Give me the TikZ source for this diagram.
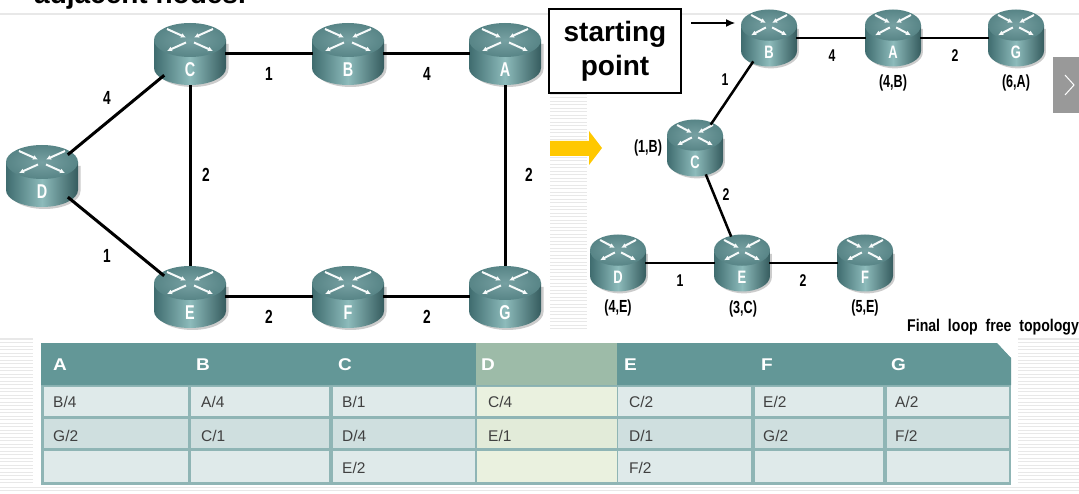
\documentclass[tikz,border=0pt]{standalone}
\usepackage{fontspec}
\usepackage{graphicx}
\setmainfont{Liberation Sans}
\usetikzlibrary{shapes.geometric,arrows.meta}
\definecolor{tealdark}{HTML}{3F6C6F}
\definecolor{tealmid}{HTML}{8DBBBB}
\definecolor{tealtop}{HTML}{5F9092}
\definecolor{tabhead}{HTML}{639797}
\definecolor{tabline}{HTML}{8FB5B5}
\definecolor{rowa}{HTML}{DFEAEA}
\definecolor{rowb}{HTML}{CFDFDF}
\definecolor{dhead}{HTML}{9DBBA8}
\definecolor{drowa}{HTML}{EAF1DF}
\definecolor{drowb}{HTML}{E2EBD9}
\definecolor{stripe}{HTML}{E8E8E8}
\definecolor{gold}{HTML}{FFC800}
\newcommand{\cond}[1]{\scalebox{.72}[1]{#1}}
\newcommand{\wide}[1]{\scalebox{1.12}[1]{#1}}
\tikzset{
  link/.style={draw=black,line width=3pt},
  linkthin/.style={draw=black,line width=2.5pt},
  hubbig/.style={ellipse,minimum width=70pt,minimum height=62pt,inner sep=0pt},
  hubsmall/.style={ellipse,minimum width=54pt,minimum height=57pt,inner sep=0pt},
  hubletter/.style={text=white,font=\bfseries\fontsize{20}{20}\selectfont},
  cost/.style={font=\bfseries\fontsize{19}{19}\selectfont,inner sep=0pt},
  costsmall/.style={font=\bfseries\fontsize{17}{17}\selectfont,inner sep=0pt},
  tag/.style={font=\bfseries\fontsize{17.5}{18}\selectfont,inner sep=0pt},
  headtxt/.style={anchor=west,text=white,font=\bfseries\fontsize{17}{17}\selectfont,inner sep=0pt},
  celltxt/.style={anchor=west,text=black!75,font=\fontsize{15.5}{15.5}\selectfont,inner sep=0pt},
  xarm/.style={white!92!tealmid,line width=2pt,-{Latex[length=5pt,width=5pt]}},
}
\newcommand{\routerart}[4]{%
  \begin{scope}[shift={(#1,#2)},xscale=#3/72,yscale=#4/62]
    \fill[black!20] (-33,-10) -- (38.5,-10) -- (38.5,15) arc[x radius=36,y radius=18,start angle=0,end angle=180] -- cycle;
    \shade[left color=tealdark,right color=tealdark!85!black,middle color=tealmid]
      (-36,-14) -- (-36,14) arc[x radius=36,y radius=17,start angle=180,end angle=0] -- (36,-14) -- cycle;
    \shade[inner color=tealtop!85!white,outer color=tealtop!92!black] (0,-14) ellipse[x radius=36,y radius=17];
    \draw[xarm] (-23,-25) -- (-4,-16.5);
    \draw[xarm] (23,-25) -- (4,-16.5);
    \draw[xarm] (-4,-11.5) -- (-23,-3);
    \draw[xarm] (4,-11.5) -- (23,-3);
  \end{scope}}
\begin{document}
\begin{tikzpicture}[x=1pt,y=-1pt]
\useasboundingbox (0,0) rectangle (1079,494);
\fill[white] (0,0) rectangle (1079,494);
% background stripes
\foreach \yy in {339,342.5,...,484}{
  \draw[stripe,line width=1pt] (0,\yy) -- (33,\yy);
  \draw[stripe,line width=1pt] (1018,\yy) -- (1079,\yy);}
\foreach \yy in {14,17.5,...,330}{
  \draw[stripe,line width=1pt] (550,\yy) -- (587,\yy);}
\foreach \yy in {487,490.5}{\draw[stripe,line width=1pt] (0,\yy) -- (1079,\yy);}
\draw[stripe,line width=2pt] (0,14) -- (1079,14);
% title fragment
\node[anchor=base west,inner sep=0pt,font=\bfseries\fontsize{28}{28}\selectfont] (title) at (34,4) {adjacent nodes.};
% left routers
\routerart{190}{54}{72}{62}\routerart{348}{54}{72}{62}\routerart{505}{54}{72}{62}
\routerart{42}{176}{72}{62}
\routerart{190}{297}{72}{62}\routerart{348}{297}{72}{62}\routerart{505}{297}{72}{62}
\node[hubbig] (LC) at (190,54) {}; \node[hubbig] (LB) at (348,54) {}; \node[hubbig] (LA) at (505,54) {};
\node[hubbig] (LD) at (42,176) {};
\node[hubbig] (LE) at (190,297) {}; \node[hubbig] (LF) at (348,297) {}; \node[hubbig] (LG) at (505,297) {};
\foreach \nn/\xx/\yy/\lbl in {a/190/70/C,b/348/70/B,c/505/70/A,d/42/192/D,e/190/313/E,f/348/313/F,g/505/313/G}{
  \node[hubletter] (Ll\nn) at (\xx,\yy) {\cond{\lbl}};}
\draw[link] (LC) -- (LB); \draw[link] (LB) -- (LA);
\draw[link] (LC) -- (LD); \draw[link] (LD) -- (LE); \draw[link] (LC) -- (LE);
\draw[link] (LA) -- (LG); \draw[link] (LE) -- (LF); \draw[link] (LF) -- (LG);
\node[cost] (c1) at (269,74) {\cond{1}};
\node[cost] (c2) at (427,74) {\cond{4}};
\node[cost] (c3) at (107,98) {\cond{4}};
\node[cost] (c4) at (206,175) {\cond{2}};
\node[cost] (c5) at (529,175) {\cond{2}};
\node[cost] (c6) at (107,256) {\cond{1}};
\node[cost] (c7) at (269,317) {\cond{2}};
\node[cost] (c8) at (427,317) {\cond{2}};
% gold arrow
\fill[gold] (550,141) -- (589,141) -- (589,131) -- (602,148) -- (589,165) -- (589,156) -- (550,156) -- cycle;
% starting point box
\node[draw=black,line width=1.4pt,fill=white,minimum width=132pt,minimum height=84pt,inner sep=0pt,align=center,font=\bfseries\fontsize{28}{34}\selectfont] (start) at (615,51) {starting\\point};
% right routers
\routerart{769}{38}{56}{57}\routerart{893}{38}{56}{57}\routerart{1016}{38}{56}{57}
\routerart{695}{148}{56}{57}
\routerart{618}{263}{56}{57}\routerart{742}{263}{56}{57}\routerart{865}{263}{56}{57}
\node[hubsmall] (RB) at (769,38) {}; \node[hubsmall] (RA) at (893,38) {}; \node[hubsmall] (RG) at (1016,38) {};
\node[hubsmall] (RC) at (695,148) {};
\node[hubsmall] (RD) at (618,263) {}; \node[hubsmall] (RE) at (742,263) {}; \node[hubsmall] (RF) at (865,263) {};
\foreach \nn/\xx/\yy/\lbl in {a/769/52/B,b/893/52/A,c/1016/52/G,d/695/162/C,e/618/277/D,f/742/277/E,g/865/277/F}{
  \node[hubletter,font=\bfseries\fontsize{18}{18}\selectfont] (Rl\nn) at (\xx,\yy) {\cond{\lbl}};}
\draw[linkthin] (RB) -- (RA); \draw[linkthin] (RA) -- (RG);
\draw[linkthin] (RB) -- (RC); \draw[linkthin] (RC) -- (RE);
\draw[linkthin] (RD) -- (RE); \draw[linkthin] (RE) -- (RF);
\coordinate (arrowtail) at (691,23);
\coordinate (arrowhead) at (735,23);
\draw[black,line width=1.2pt,-{Latex[length=9pt,width=8pt]}] (arrowtail) -- (arrowhead);
\node[costsmall] (r1) at (832,56) {\cond{4}};
\node[costsmall] (r2) at (955,56) {\cond{2}};
\node[costsmall] (r3) at (725,80) {\cond{1}};
\node[costsmall] (r4) at (726,195) {\cond{2}};
\node[costsmall] (r5) at (680,281) {\cond{1}};
\node[costsmall] (r6) at (803,281) {\cond{2}};
\node[tag] (t1) at (893,83) {\cond{(4,B)}};
\node[tag] (t2) at (1016,83) {\cond{(6,A)}};
\node[tag] (t3) at (648,148) {\cond{(1,B)}};
\node[tag] (t4) at (618,308) {\cond{(4,E)}};
\node[tag] (t5) at (743,309) {\cond{(3,C)}};
\node[tag] (t6) at (865,308) {\cond{(5,E)}};
\node[anchor=west,inner sep=0pt,font=\bfseries\fontsize{17}{17}\selectfont] (final) at (907,327) {\scalebox{.83}[1]{Final\ \ loop\ \ free\ \ topology}};
% next button
\node[fill=black!40,minimum width=26pt,minimum height=56pt,inner sep=0pt] (btn) at (1066,85) {};
\coordinate (chevA) at (1065,75); \coordinate (chevB) at (1074,85); \coordinate (chevC) at (1065,95);
\draw[white,line width=1pt] (chevA) -- (chevB) -- (chevC);
% table
\fill[tabline] (41,343) rectangle (1011,485);
\fill[white] (997,343) -- (1011,343) -- (1011,358) -- cycle;
\fill[tabhead] (41,343) -- (997,343) -- (1011,358) -- (1011,385) -- (41,385) -- cycle;
\fill[dhead] (476,343) rectangle (617,385);
\foreach \ya/\yb/\ca/\cb in {387/416/rowa/drowa,419/448/rowb/drowb,451/482/rowa/drowa}{
  \foreach \xa/\xb in {44/188,191/329,333/475,618/751,755/883,887/1009}{\fill[\ca] (\xa,\ya) rectangle (\xb,\yb);}
  \fill[\cb] (477,\ya) rectangle (617,\yb);}
\foreach \xx/\lbl/\nn in {53/A/a,196/B/b,338/C/c,481/D/d,624/E/e,761/F/f,891/G/g}{
  \node[headtxt] (h\nn) at (\xx,365) {\wide{\lbl}};}
\foreach \xx/\lbl/\nn in {53/B\slash 4/a,201/A\slash 4/b,342/B\slash 1/c,488/C\slash 4/d,629/C\slash 2/e,763/E\slash 2/f,895/A\slash 2/g}{
  \node[celltxt] (ra\nn) at (\xx,402) {\lbl};}
\foreach \xx/\lbl/\nn in {53/G\slash 2/a,201/C\slash 1/b,342/D\slash 4/c,488/E\slash 1/d,629/D\slash 1/e,763/G\slash 2/f,895/F\slash 2/g}{
  \node[celltxt] (rb\nn) at (\xx,436) {\lbl};}
\node[celltxt] (rcc) at (342,468) {E/2};
\node[celltxt] (rce) at (629,468) {F/2};
\end{tikzpicture}
\end{document}
